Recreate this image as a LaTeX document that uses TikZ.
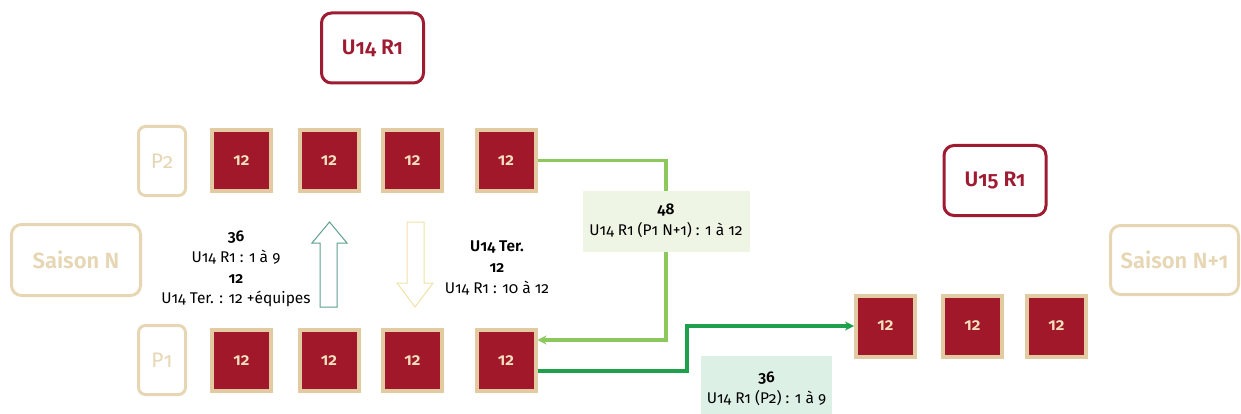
\documentclass[tikz,border=0pt]{standalone}
\usepackage{fontspec}
\setmainfont{Fira Sans}[Numbers=OldStyle, BoldFont={Fira Sans SemiBold}]
\usetikzlibrary{arrows.meta}
\definecolor{dred}{HTML}{9E1B32}
\definecolor{sqred}{HTML}{A0182A}
\definecolor{tanb}{HTML}{E2CBA2}
\definecolor{tanl}{HTML}{E6D6B4}
\definecolor{cream}{HTML}{F2E0BC}
\definecolor{lgreen}{HTML}{8CC85C}
\definecolor{dgreen}{HTML}{1FA04C}
\definecolor{boxlg}{HTML}{EEF5E4}
\definecolor{boxmint}{HTML}{DDF0E5}
\definecolor{teal}{HTML}{5E9E8E}
\definecolor{paley}{HTML}{F0E2A8}
\tikzset{
  sq/.style={rectangle, minimum width=59pt, minimum height=61pt, fill=sqred, draw=tanb, line width=4pt, text=cream, font=\fontsize{17}{19}\selectfont\bfseries, inner sep=0pt},
  pbox/.style={rectangle, rounded corners=7pt, draw=tanl, line width=3pt, text=tanl, minimum width=47pt, minimum height=69pt, font=\fontsize{21}{23}\selectfont, inner sep=0pt},
  sbox/.style={rectangle, rounded corners=10pt, draw=tanl, line width=3pt, text=tanl, font=\fontsize{22}{24}\selectfont\bfseries, inner sep=0pt},
  ubox/.style={rectangle, rounded corners=10pt, draw=dred, line width=3pt, text=dred, minimum width=102pt, minimum height=70pt, font=\fontsize{21}{23}\selectfont\bfseries, inner sep=0pt},
  lbl/.style={align=center, font=\fontsize{15.5}{20.7}\selectfont, inner sep=0pt},
  conn/.style={line width=3.5pt},
}
\begin{document}
\begin{tikzpicture}[x=1pt,y=-1pt]
\useasboundingbox (0,0) rectangle (1241,414);
% title boxes
\node[ubox] (u14) at (372.5,48) {U14 R1};
\node[ubox] (u15) at (995,180.5) {U15 R1};
% season boxes
\node[sbox, minimum width=129pt, minimum height=71pt] (sn) at (76,260) {Saison N};
\node[sbox, minimum width=128pt, minimum height=69pt] (sn1) at (1174.5,260) {Saison N+1};
% P boxes
\node[pbox] (p2) at (162,161) {P2};
\node[pbox] (p1) at (162,360) {P1};
% top squares
\node[sq] (t1) at (241.5,160.5) {12};
\node[sq] (t2) at (329,160.5) {12};
\node[sq] (t3) at (412.5,160.5) {12};
\node[sq] (t4) at (506,160.5) {12};
% bottom squares
\node[sq] (b1) at (241.5,360.5) {12};
\node[sq] (b2) at (329,360.5) {12};
\node[sq] (b3) at (412.5,360.5) {12};
\node[sq] (b4) at (506,360.5) {12};
% right squares
\node[sq] (r1) at (885.5,326) {12};
\node[sq] (r2) at (972.5,326) {12};
\node[sq] (r3) at (1056.5,326) {12};
% connectors
\coordinate (c1) at (666,160.5);
\coordinate (c2) at (666,340);
\draw[conn, lgreen, -{Stealth[length=9pt,width=9pt]}] (t4.east) -- (c1) -- (c2) -- ([yshift=20.5pt]b4.east);
\coordinate (d1) at (687,371);
\coordinate (d2) at (687,326);
\draw[conn, dgreen, -{Stealth[length=9pt,width=9pt]}] ([yshift=-10.5pt]b4.east) -- (d1) -- (d2) -- (r1.west);
% label boxes
\node[lbl, fill=boxlg, minimum width=167pt, minimum height=61pt] (l48) at (666,221) {\textbf{48}\\U14 R1 (P1 N+1) : 1 à 12};
\fill[boxmint] (701,356) rectangle (832,420);
\node[lbl] (l36b) at (766.5,389) {\textbf{36}\\U14 R1 (P2) : 1 à 9};
% hollow arrows
\draw[teal, line width=1pt] (329.5,222) -- (347,243) -- (337,243) -- (337,307) -- (320,307) -- (320,243) -- (312,243) -- cycle;
\draw[paley, line width=1pt] (407,222) -- (424,222) -- (424,283) -- (433,283) -- (415,307) -- (397,283) -- (407,283) -- cycle;
% text labels
\node[lbl] (ltxt) at (236,269) {\textbf{36}\\U14 R1 : 1 à 9\\\textbf{12}\\U14 Ter. : 12 +équipes};
\node[lbl] (rtxt) at (497,268) {\textbf{U14 Ter.}\\\textbf{12}\\U14 R1 : 10 à 12};
\end{tikzpicture}
\end{document}
